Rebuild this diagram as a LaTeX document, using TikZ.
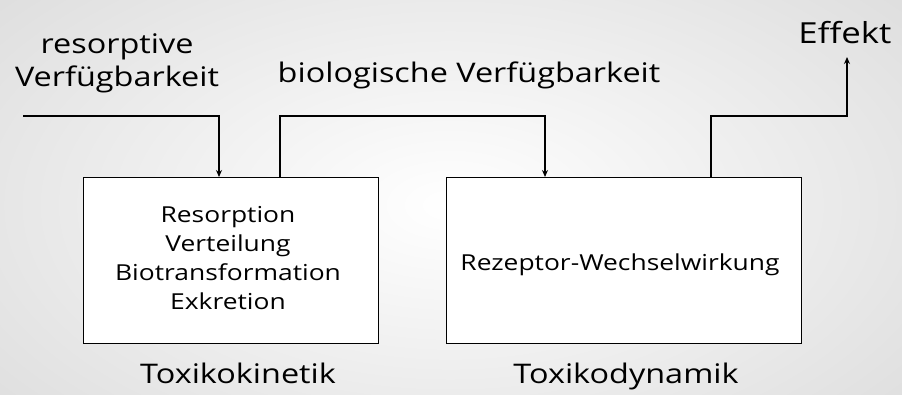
\documentclass[tikz,border=0pt]{standalone}
\usepackage{fontspec}
\setmainfont[FakeStretch=1.2]{Open Sans}
\usetikzlibrary{arrows.meta}
\begin{document}
\begin{tikzpicture}[x=1pt,y=-1pt,
  box/.style={draw=black, line width=0.9pt, fill=white, inner sep=0pt, anchor=north west},
  conn/.style={line width=1.4pt, -{Stealth[length=7pt,width=6pt]}},
  lbl/.style={font=\fontsize{27}{33}\selectfont, align=center, inner sep=0pt},
  boxtxt/.style={font=\fontsize{22}{29}\selectfont, align=center, inner sep=0pt}]
\useasboundingbox (0,0) rectangle (902,394);
\begin{scope}
\clip (0,0) rectangle (902,394);
\shade[inner color=white, outer color=black!14] (-200,-150) rectangle (1100,560);
\end{scope}
\node[box, minimum width=295pt, minimum height=166pt] (k) at (83,177) {};
\node[box, minimum width=355pt, minimum height=166pt] (d) at (446,177) {};
\node[boxtxt] (ktxt) at (228,258) {Resorption\\Verteilung\\Biotransformation\\Exkretion};
\node[boxtxt] (dtxt) at (620,265) {Rezeptor-Wechselwirkung};
\node[lbl] (res) at (117,63) {resorptive\\Verfügbarkeit};
\node[lbl] (bio) at (469,75) {biologische Verfügbarkeit};
\node[lbl, font=\fontsize{29}{33}\selectfont] (eff) at (845,33) {Effekt};
\node[lbl] (tk) at (238,373) {Toxikokinetik};
\node[lbl] (td) at (626,376) {Toxikodynamik};
\coordinate (s1) at (23,116);
\coordinate (k1) at (219,177);
\coordinate (k2) at (280,177);
\coordinate (d1) at (545,177);
\coordinate (d2) at (711,177);
\coordinate (e1) at (847,57);
\draw[conn] (s1) -| (k1);
\draw[conn] (k2) -- (280,116) -| (d1);
\draw[conn] (d2) -- (711,116) -| (e1);
\end{tikzpicture}
\end{document}
